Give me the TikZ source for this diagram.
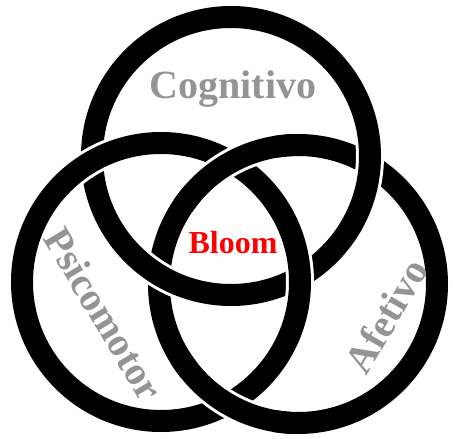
\documentclass[tikz,border=0pt]{standalone}
\usepackage{fontspec}
\setmainfont{Liberation Serif}

\tikzstyle{ring_wh} = [draw=white, line width=28pt]
\tikzstyle{ring_bk} = [draw=black, line width=22pt]
\tikzstyle{area} = [font=\bfseries\fontsize{40}{40}\selectfont, text=black!42]
\tikzstyle{core} = [font=\bfseries\fontsize{32}{32}\selectfont, text=red]

\begin{document}
\begin{tikzpicture}[x=1pt,y=-1pt]
\useasboundingbox (0,0) rectangle (453,439);

% Rings
\coordinate (cog) at (231,156);
\coordinate (psi) at (161,282);
\coordinate (afe) at (298,284);

\draw [ring_wh] (afe) circle[radius=139];
\draw [ring_bk] (afe) circle[radius=139];
\draw [ring_wh] (cog) circle[radius=139];
\draw [ring_bk] (cog) circle[radius=139];
\draw [ring_wh] (psi) circle[radius=139];
\draw [ring_bk] (psi) circle[radius=139];

% Afetivo passes over Psicomotor
\draw [ring_wh] (afe) ++(221:139) arc[start angle=221, end angle=261, radius=139];
\draw [ring_bk] (afe) ++(214:139) arc[start angle=214, end angle=268, radius=139];
\draw [ring_wh] (afe) ++(100:139) arc[start angle=100, end angle=141, radius=139];
\draw [ring_bk] (afe) ++(93:139) arc[start angle=93, end angle=148, radius=139];

% Labels
\node (cog_txt) [area] at (233,89) {Cognitivo};
\node (psi_txt) [area, rotate=-59] at (104,314) {Psicomotor};
\node (afe_txt) [area, rotate=60] at (386,316) {Afetivo};
\node (bloom) [core] at (233,243) {Bloom};
\end{tikzpicture}
\end{document}
